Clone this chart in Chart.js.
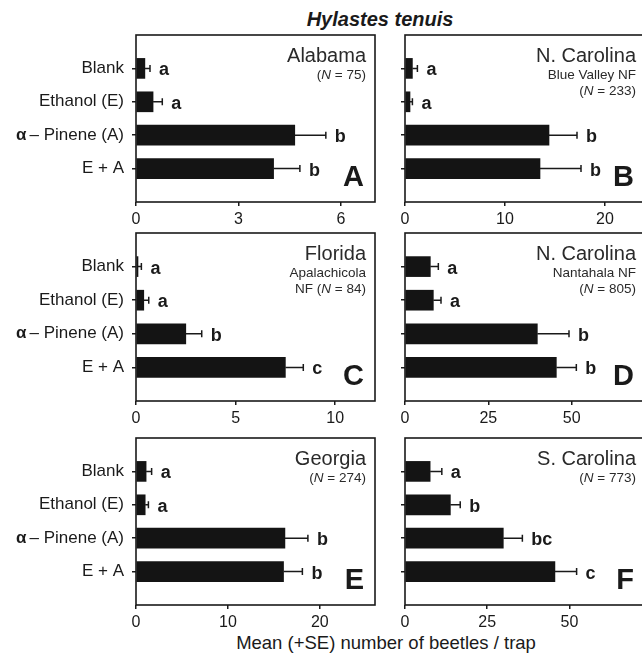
<!DOCTYPE html>
<html>
<head>
<meta charset="utf-8">
<script src="https://cdn.jsdelivr.net/npm/chart.js@4.4.1/dist/chart.umd.min.js"></script>
<style>
  html, body { margin: 0; padding: 0; background: #fff; }
  body { position: relative; width: 642px; height: 655px; overflow: hidden; }
  canvas { position: absolute; }
  .txt { position: absolute; white-space: nowrap; color: #1a1a1a;
         font-family: "Liberation Sans", Arial, Helvetica, sans-serif; }
  #title { top: 9px; left: 380px; transform: translateX(-50%);
           font-size: 20px; line-height: 20px; font-weight: bold; font-style: italic; }
  #xtitle { top: 634px; left: 386px; transform: translateX(-50%);
            font-size: 18.5px; line-height: 18.5px; }
</style>
</head>
<body>
<div id="title" class="txt">Hylastes tenuis</div>
<div id="xtitle" class="txt">Mean (+SE) number of beetles / trap</div>
<script>
///////////////////////////////
// data
///////////////////////////////
const categories = ['Blank', 'Ethanol (E)', 'α – Pinene (A)', 'E + A'];

// A - Alabama
const alabamaMeans = [0.26, 0.5, 4.65, 4.03];
const alabamaSE = [0.15, 0.27, 0.91, 0.77];
const alabamaLetters = ['a', 'a', 'b', 'b'];
const alabamaSite = ['Alabama', '(*N* = 75)'];
const alabamaTicks = [0, 7, 3];   // min, max, step

// B - N. Carolina, Blue Valley NF
const blueValleyMeans = [0.74, 0.5, 14.4, 13.5];
const blueValleySE = [0.5, 0.24, 2.8, 4.1];
const blueValleyLetters = ['a', 'a', 'b', 'b'];
const blueValleySite = ['N. Carolina', 'Blue Valley NF', '(*N* = 233)'];
const blueValleyTicks = [0, 24, 10];

// C - Florida, Apalachicola NF
const floridaMeans = [0.1, 0.39, 2.5, 7.5];
const floridaSE = [0.17, 0.25, 0.8, 0.9];
const floridaLetters = ['a', 'a', 'b', 'c'];
const floridaSite = ['Florida', 'Apalachicola', 'NF (*N* = 84)'];
const floridaTicks = [0, 12, 5];

// D - N. Carolina, Nantahala NF
const nantahalaMeans = [7.6, 8.5, 39.7, 45.4];
const nantahalaSE = [2.4, 2.3, 9.5, 6.0];
const nantahalaLetters = ['a', 'a', 'b', 'b'];
const nantahalaSite = ['N. Carolina', 'Nantahala NF', '(*N* = 805)'];
const nantahalaTicks = [0, 72, 25];

// E - Georgia
const georgiaMeans = [1.1, 1.0, 16.2, 16.05];
const georgiaSE = [0.6, 0.35, 2.5, 2.05];
const georgiaLetters = ['a', 'a', 'b', 'b'];
const georgiaSite = ['Georgia', '(*N* = 274)'];
const georgiaTicks = [0, 26, 10];

// F - S. Carolina
const southCarolinaMeans = [7.65, 13.8, 29.9, 45.6];
const southCarolinaSE = [3.55, 3.0, 5.8, 6.6];
const southCarolinaLetters = ['a', 'b', 'bc', 'c'];
const southCarolinaSite = ['S. Carolina', '(*N* = 773)'];
const southCarolinaTicks = [0, 73, 25];

///////////////////////////////
// drawing helpers
///////////////////////////////
const FONT = '"Liberation Sans", Arial, Helvetica, sans-serif';
const INK = '#1a1a1a';

// draws "abc *italic* def" right-aligned at x
function drawMixed(ctx, str, x, y, size) {
    const parts = str.split('*');
    let total = 0;
    parts.forEach((p, i) => {
        ctx.font = (i % 2 ? 'italic ' : '') + size + 'px ' + FONT;
        total += ctx.measureText(p).width;
    });
    let cx = x - total;
    ctx.textAlign = 'left';
    parts.forEach((p, i) => {
        ctx.font = (i % 2 ? 'italic ' : '') + size + 'px ' + FONT;
        ctx.fillText(p, cx, y);
        cx += ctx.measureText(p).width;
    });
}

const decor = {
    id: 'decor',
    afterDatasetsDraw(chart, args, opts) {
        const ctx = chart.ctx;
        const area = chart.chartArea;
        const xs = chart.scales.x;
        const meta = chart.getDatasetMeta(0);
        const vals = chart.data.datasets[0].data;
        ctx.save();

        // error bars + letters
        ctx.strokeStyle = INK;
        ctx.fillStyle = INK;
        ctx.lineWidth = 1.5;
        opts.se.forEach((se, i) => {
            const bar = meta.data[i + 1];
            const y = bar.y;
            const x0 = xs.getPixelForValue(vals[i + 1]);
            const x1 = xs.getPixelForValue(vals[i + 1] + se);
            ctx.beginPath();
            ctx.moveTo(x0, y);
            ctx.lineTo(x1, y);
            ctx.moveTo(x1, y - 3.5);
            ctx.lineTo(x1, y + 3.5);
            ctx.stroke();
            ctx.font = 'bold 18px ' + FONT;
            ctx.textAlign = 'left';
            ctx.textBaseline = 'alphabetic';
            ctx.fillText(opts.letters[i], x1 + 9, y + 7);
        });

        // frame
        ctx.lineWidth = 1.6;
        ctx.strokeRect(area.left, area.top, area.right - area.left, area.bottom - area.top);

        // site text
        ctx.fillStyle = '#2a2a2a';
        const rx = area.right - 9;
        opts.site.forEach((line, i) => {
            if (i === 0) drawMixed(ctx, line, rx, area.top + 27, 20);
            else drawMixed(ctx, line, rx, area.top + 27 + 16.5 * i, 13.5);
        });

        // panel tag
        ctx.fillStyle = INK;
        ctx.font = 'bold 29px ' + FONT;
        ctx.textAlign = 'right';
        ctx.fillText(opts.tag, area.right - 11, area.bottom - 16);

        // bold alpha in front of the pinene label
        if (opts.showLabels) {
            const ys = chart.scales.y;
            const yPin = ys.getPixelForValue(3);
            ctx.font = '17px ' + FONT;
            const w = ctx.measureText('– Pinene (A)').width;
            ctx.font = 'bold 17px ' + FONT;
            ctx.textAlign = 'right';
            ctx.textBaseline = 'middle';
            ctx.fillText('α', area.left - 12 - w - 3, yPin);
        }
        ctx.restore();
    }
};

function makePanel(p) {
    const yw = p.showLabels ? p.left : 15;
    const w = yw + (p.right - p.left) + 5;
    const h = 5 + (p.bottom - p.top) + 30;
    const canvas = document.createElement('canvas');
    canvas.width = w;
    canvas.height = h;
    canvas.style.left = (p.left - yw) + 'px';
    canvas.style.top = (p.top - 5) + 'px';
    document.body.appendChild(canvas);

    new Chart(canvas, {
        type: 'bar',
        data: {
            labels: [''].concat(categories, ['']),
            datasets: [{
                data: [null].concat(p.means, [null]),
                backgroundColor: '#141414',
                borderWidth: 0,
                barThickness: 20
            }]
        },
        options: {
            indexAxis: 'y',
            responsive: false,
            animation: false,
            events: [],
            layout: { padding: { top: 5, right: 5, left: 0, bottom: 0 } },
            plugins: {
                legend: { display: false },
                tooltip: { enabled: false },
                decor: { se: p.se, letters: p.letters, site: p.site, tag: p.tag, showLabels: p.showLabels }
            },
            scales: {
                x: {
                    min: p.ticks[0], max: p.ticks[1],
                    afterFit: (s) => { s.height = 30; s.paddingLeft = 0; s.paddingRight = 0; },
                    ticks: {
                        stepSize: p.ticks[2], includeBounds: false, maxRotation: 0,
                        color: INK, font: { family: FONT, size: 16 }, padding: 4
                    },
                    grid: { drawOnChartArea: false, drawTicks: true, tickLength: 4, color: INK, lineWidth: 1.5 },
                    border: { display: false }
                },
                y: {
                    offset: false,
                    afterFit: (s) => { s.width = yw; s.paddingTop = 0; s.paddingBottom = 0; },
                    ticks: {
                        display: p.showLabels, autoSkip: false,
                        color: INK, font: { family: FONT, size: 17 }, padding: 8,
                        callback: function (value) {
                            const l = this.getLabelForValue(value);
                            return l.charAt(0) === 'α' ? l.slice(1).trim() : l;
                        }
                    },
                    grid: {
                        offset: false, drawOnChartArea: false, tickLength: 4, lineWidth: 1.5,
                        color: (c) => (c.index >= 1 && c.index <= 4) ? INK : 'rgba(0,0,0,0)'
                    },
                    border: { display: false }
                }
            }
        },
        plugins: [decor]
    });
}

// panel boxes
const L = [136, 375], R = [405, 645];
const rows = [[35, 202], [233, 401], [438, 605]];

makePanel({ left: L[0], right: L[1], top: rows[0][0], bottom: rows[0][1], showLabels: true, tag: 'A',
    means: alabamaMeans, se: alabamaSE, letters: alabamaLetters, site: alabamaSite, ticks: alabamaTicks });
makePanel({ left: R[0], right: R[1], top: rows[0][0], bottom: rows[0][1], showLabels: false, tag: 'B',
    means: blueValleyMeans, se: blueValleySE, letters: blueValleyLetters, site: blueValleySite, ticks: blueValleyTicks });
makePanel({ left: L[0], right: L[1], top: rows[1][0], bottom: rows[1][1], showLabels: true, tag: 'C',
    means: floridaMeans, se: floridaSE, letters: floridaLetters, site: floridaSite, ticks: floridaTicks });
makePanel({ left: R[0], right: R[1], top: rows[1][0], bottom: rows[1][1], showLabels: false, tag: 'D',
    means: nantahalaMeans, se: nantahalaSE, letters: nantahalaLetters, site: nantahalaSite, ticks: nantahalaTicks });
makePanel({ left: L[0], right: L[1], top: rows[2][0], bottom: rows[2][1], showLabels: true, tag: 'E',
    means: georgiaMeans, se: georgiaSE, letters: georgiaLetters, site: georgiaSite, ticks: georgiaTicks });
makePanel({ left: R[0], right: R[1], top: rows[2][0], bottom: rows[2][1], showLabels: false, tag: 'F',
    means: southCarolinaMeans, se: southCarolinaSE, letters: southCarolinaLetters, site: southCarolinaSite, ticks: southCarolinaTicks });
</script>
</body>
</html>
